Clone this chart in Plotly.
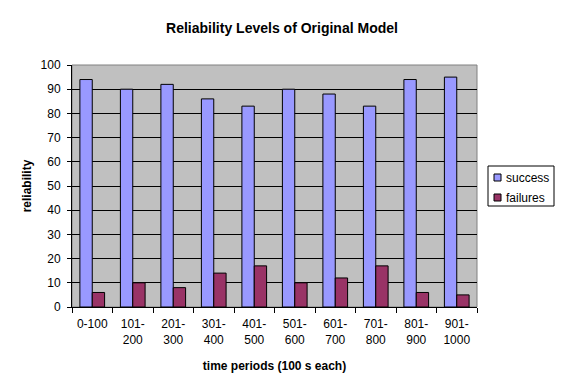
import plotly.graph_objects as go

categories = ["0-100", "101-<br>200", "201-<br>300", "301-<br>400", "401-<br>500",
              "501-<br>600", "601-<br>700", "701-<br>800", "801-<br>900", "901-<br>1000"]
success = [94, 90, 92, 86, 83, 90, 88, 83, 94, 95]
failures = [6, 10, 8, 14, 17, 10, 12, 17, 6, 5]
series_names = ["success", "failures"]
series_colors = ["#9999FF", "#993366"]

font_family = "Liberation Sans, Arial, sans-serif"

# figure geometry (page body has an 8px margin)
W, H = 548, 375
L, T, R, B = 64, 57, 79, 76
PW, PH = W - L - R, H - T - B


def px_x(px):
    return (px - L) / PW


def px_y(py):
    return (H - B - py) / PH


fig = go.Figure()
for name, vals, col in zip(series_names, [success, failures], series_colors):
    fig.add_trace(go.Bar(x=categories, y=vals, name=name,
                         marker=dict(color=col, line=dict(color="black", width=1))))

fig.update_layout(
    width=W, height=H,
    margin=dict(l=L, r=R, t=T, b=B, autoexpand=False),
    paper_bgcolor="white",
    plot_bgcolor="#C0C0C0",
    barmode="group",
    bargap=0.39,
    bargroupgap=0,
    font=dict(family=font_family, size=12, color="black"),
    title=dict(text="<b>Reliability Levels of Original Model</b>",
               x=0.5, xanchor="center", y=1 - 20 / H, yanchor="middle",
               font=dict(size=14, family=font_family, color="black")),
    showlegend=False,
)
fig.update_xaxes(
    automargin=False,
    showline=True, linecolor="black", linewidth=1,
    ticks="outside", tickson="boundaries", ticklen=5, tickcolor="black",
    ticklabelstandoff=6,
    showgrid=False,
    tickfont=dict(size=12, family=font_family),
    title=dict(text="<b>time periods (100 s each)</b>", font=dict(size=12, family=font_family), standoff=15),
)
fig.update_yaxes(
    automargin=False,
    range=[0, 100], dtick=10,
    showline=True, linecolor="black", linewidth=1,
    ticks="outside", ticklen=4, tickcolor="black",
    ticklabelstandoff=4,
    showgrid=True, gridcolor="black", gridwidth=1,
    zeroline=False,
    tickfont=dict(size=12, family=font_family),
    title=dict(text="<b>reliability</b>", font=dict(size=12, family=font_family), standoff=6),
)
fig.add_shape(type="rect", xref="paper", yref="paper", x0=0, x1=1, y0=0, y1=1,
              line=dict(color="#808080", width=1), layer="below")

# legend box (drawn manually to match the compact reference legend)
fig.add_shape(type="rect", xref="paper", yref="paper",
              x0=px_x(480), x1=px_x(546), y0=px_y(198), y1=px_y(158),
              line=dict(color="black", width=1), fillcolor="white")
for i, (name, col) in enumerate(zip(series_names, series_colors)):
    cy = 169.5 + 20 * i
    fig.add_shape(type="rect", xref="paper", yref="paper",
                  x0=px_x(486), x1=px_x(493), y0=px_y(cy + 3.5), y1=px_y(cy - 3.5),
                  line=dict(color="black", width=1), fillcolor=col)
    fig.add_annotation(xref="paper", yref="paper", x=px_x(496), y=px_y(cy),
                       text=name, showarrow=False, xanchor="left", yanchor="middle",
                       font=dict(size=12, family=font_family, color="black"))

fig.write_html("out.html")
